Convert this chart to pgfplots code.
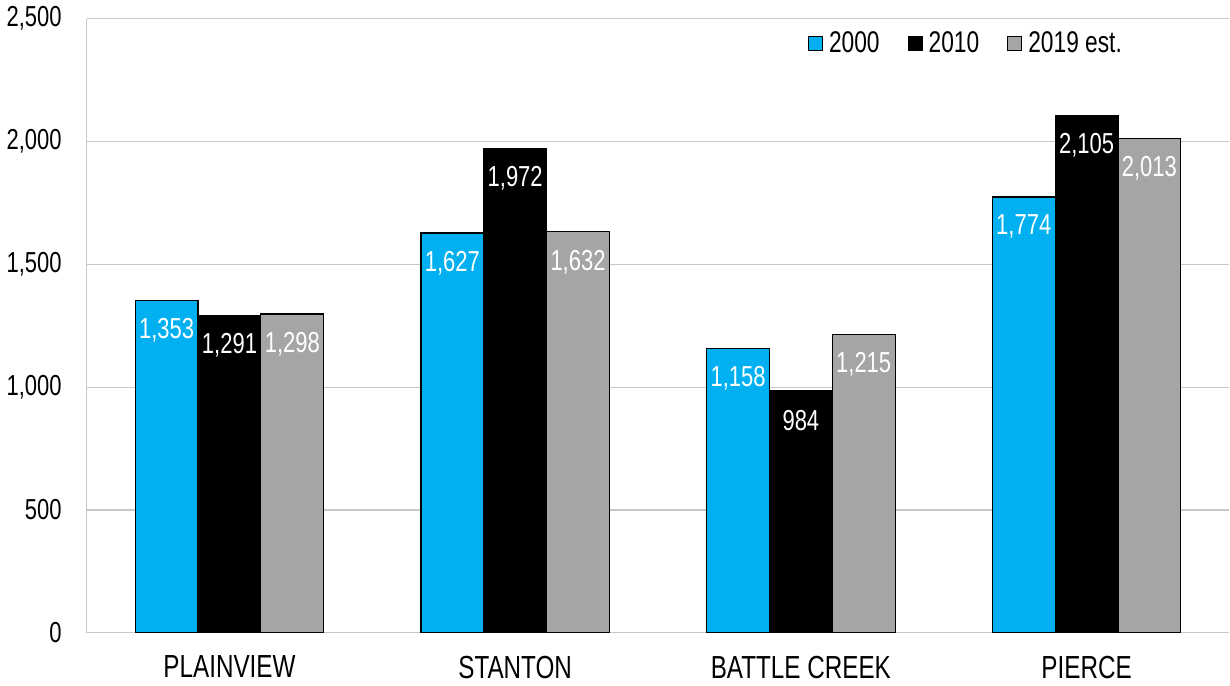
\documentclass[border=0pt]{standalone}
\usepackage{fontspec}
\setmainfont{Liberation Sans}[FakeStretch=0.76]
\usepackage{pgfplots}
\pgfplotsset{compat=1.18}
\definecolor{cBlue}{HTML}{00B0F0}
\definecolor{cGray}{HTML}{A5A5A5}
\definecolor{gridC}{HTML}{C8C8C8}
\begin{document}
\begin{tikzpicture}
\begin{axis}[
  scale only axis,
  width=573pt, height=308pt,
  ybar=0pt,
  bar width=31.5pt,
  xmin=-0.5, xmax=3.5,
  ymin=0, ymax=2500,
  ytick={0,500,...,2500},
  xtick={0,1,2,3},
  xticklabels={PLAINVIEW, STANTON, BATTLE CREEK, PIERCE},
  axis x line*=bottom, axis y line*=left,
  axis line style={gridC, -},
  major tick length=0pt,
  ymajorgrids,
  grid style={gridC, line width=0.6pt},
  tick label style={font=\fontsize{14.5}{16}\selectfont, text=black},
  /pgf/number format/.cd, 1000 sep={,}, assume math mode=true,
  /pgfplots/.cd,
  yticklabel style={xshift=-9pt},
  xticklabel style={yshift=-8pt, font=\fontsize{16}{18}\selectfont},
  nodes near coords,
  nodes near coords style={font=\fontsize{14.5}{16}\selectfont, text=white, anchor=center, yshift=-15pt,
    /pgf/number format/.cd, 1000 sep={,}, assume math mode=true},
  legend style={draw=none, fill=none, at={(0.915,0.959)}, anchor=east,
    legend columns=-1, font=\fontsize{15}{17}\selectfont,
    /tikz/every odd column/.append style={column sep=1pt},
    /tikz/every even column/.append style={column sep=12pt}},
  legend image code/.code={\draw[#1, draw=black, line width=0.6pt] (0pt,-3.5pt) rectangle (7pt,3.5pt);},
]
\addplot[fill=cBlue, draw=black, line width=0.6pt] coordinates {(0,1353) (1,1627) (2,1158) (3,1774)};
\addplot[fill=black, draw=black, line width=0.6pt] coordinates {(0,1291) (1,1972) (2,984) (3,2105)};
\addplot[fill=cGray, draw=black, line width=0.6pt] coordinates {(0,1298) (1,1632) (2,1215) (3,2013)};
\legend{2000, 2010, 2019 est.}
\end{axis}
\end{tikzpicture}
\end{document}
